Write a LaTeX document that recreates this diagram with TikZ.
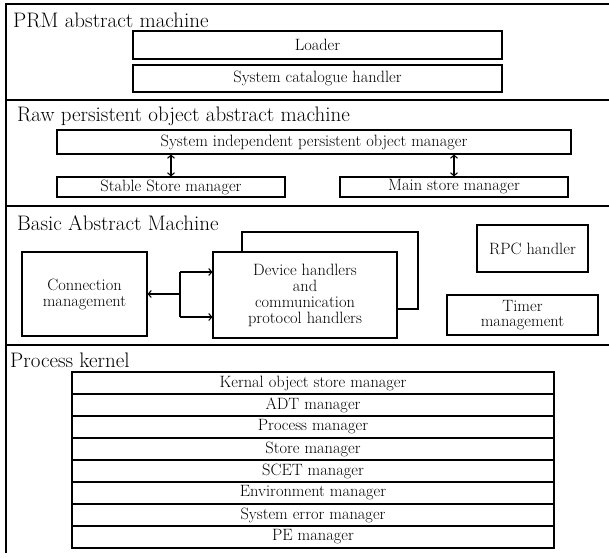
\documentclass[tikz,border=0pt]{standalone}
\usetikzlibrary{arrows.meta}
\tikzset{
  box/.style={draw, line width=1.1pt, inner sep=0pt, align=center, font=\fontsize{16.4}{16}\selectfont},
  title/.style={anchor=base west, inner sep=0pt, font=\fontsize{21}{24}\selectfont},
  frameline/.style={line width=1.3pt},
  link/.style={line width=1.1pt},
  tip/.style={-{Straight Barb[length=3pt,width=7pt]}},
  dbl/.style={link, {Straight Barb[length=3pt,width=7pt]}-{Straight Barb[length=3pt,width=7pt]}},
  krow/.style={box, minimum width=482pt, minimum height=22pt},
}
\begin{document}
\begin{tikzpicture}[x=1pt,y=-1pt]
\useasboundingbox (0,0) rectangle (609,557);
% frame and separators
\draw[frameline] (609,4) -- (6,4) -- (6,553);
\draw[frameline] (6,100) -- (609,100);
\draw[frameline] (6,206) -- (609,206);
\draw[frameline] (6,345) -- (609,345);
% titles
\node[title] (t1) at (13,27) {PRM abstract machine};
\node[title] (t2) at (17,121) {Raw persistent object abstract machine};
\node[title] (t3) at (17,230) {Basic Abstract Machine};
\node[title] (t4) at (10,367) {Process kernel};
% PRM
\node[box, minimum width=369pt, minimum height=28pt] (loader) at (317.5,45) {Loader};
\node[box, minimum width=369pt, minimum height=27pt] (cat) at (317.5,78.5) {System catalogue handler};
% Raw
\node[box, minimum width=514pt, minimum height=24pt] (sipom) at (314,142) {System independent persistent object manager};
\node[box, minimum width=228pt, minimum height=20pt] (stable) at (171,187) {Stable Store manager};
\node[box, minimum width=228pt, minimum height=20pt] (main) at (454,187) {Main store manager};
\draw[dbl] (sipom.south -| stable.north) -- (stable.north);
\draw[dbl] (sipom.south -| main.north) -- (main.north);
% Basic
\node[box, minimum width=125pt, minimum height=84pt] (conn) at (84.5,294) {Connection\\management};
\node[box, minimum width=184pt, minimum height=86pt] (dev) at (305,295) {Device handlers\\and\\communication\\protocol handlers};
\node[box, minimum width=111pt, minimum height=47pt] (rpc) at (532.5,248.5) {RPC handler};
\node[box, minimum width=151pt, minimum height=40pt, font=\fontsize{16.4}{15.5}\selectfont] (timer) at (522.5,315) {Timer\\management};
\coordinate (ju) at (180,272);
\coordinate (jd) at (180,317);
\draw[link, {Straight Barb[length=3pt,width=7pt]}-] (conn.east) -- (conn.east -| ju);
\draw[link] (ju) -- (jd);
\draw[link, tip] (ju) -- (ju -| dev.west);
\draw[link, tip] (jd) -- (jd -| dev.west);
\coordinate (la) at (242,232);
\coordinate (lb) at (418,309);
\draw[link] (dev.north -| la) -- (la) -| (lb) -- (lb -| dev.east);
% Kernel
\node[krow] (k1) at (313,383) {Kernal object store manager};
\node[krow] (k2) at (313,405) {ADT manager};
\node[krow] (k3) at (313,427) {Process manager};
\node[krow] (k4) at (313,449) {Store manager};
\node[krow] (k5) at (313,471) {SCET manager};
\node[krow] (k6) at (313,493) {Environment manager};
\node[krow] (k7) at (313,515) {System error manager};
\node[krow] (k8) at (313,537) {PE manager};
\end{tikzpicture}
\end{document}
